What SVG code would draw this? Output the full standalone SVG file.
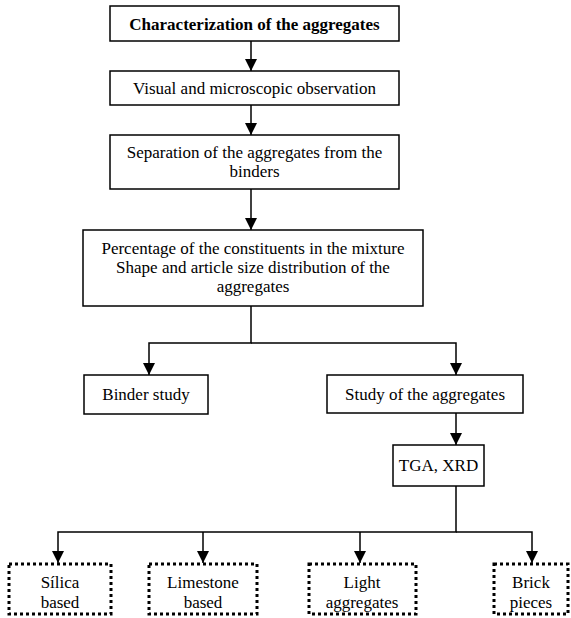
<svg xmlns="http://www.w3.org/2000/svg" width="571" height="618" viewBox="0 0 571 618">
  <style>
    .box { fill: #fff; stroke: #000; stroke-width: 1.5; }
    .dot { fill: #fff; stroke: #000; stroke-width: 3; stroke-dasharray: 3 3; }
    .lbl { font-family: "Liberation Serif", "Times New Roman", serif; font-size: 17px; fill: #000; text-anchor: middle; }
    .b { font-weight: bold; }
    .ln { fill: none; stroke: #000; stroke-width: 1.5; }
  </style>
  <defs>
    <marker id="arr" markerUnits="userSpaceOnUse" markerWidth="12" markerHeight="13" refX="12" refY="6" orient="auto" viewBox="0 0 12 12">
      <path d="M0,0 L12,6 L0,12 Z" fill="#000"/>
    </marker>
  </defs>

  <g id="connectors">
    <line class="ln" x1="251" y1="41" x2="251" y2="71" marker-end="url(#arr)"/>
    <line class="ln" x1="251" y1="105" x2="251" y2="135" marker-end="url(#arr)"/>
    <line class="ln" x1="251" y1="189" x2="251" y2="230" marker-end="url(#arr)"/>
    <polyline class="ln" points="251,306 251,343 149,343 149,375" marker-end="url(#arr)"/>
    <polyline class="ln" points="251,343 456,343 456,375" marker-end="url(#arr)"/>
    <line class="ln" x1="456" y1="413" x2="456" y2="445" marker-end="url(#arr)"/>
    <polyline class="ln" points="456,486 456,532 58,532 58,563" marker-end="url(#arr)"/>
    <line class="ln" x1="203" y1="532" x2="203" y2="563" marker-end="url(#arr)"/>
    <line class="ln" x1="360" y1="532" x2="360" y2="563" marker-end="url(#arr)"/>
    <polyline class="ln" points="456,532 532,532 532,563" marker-end="url(#arr)"/>
  </g>

  <g id="characterization">
    <rect class="box" x="110" y="6" width="289" height="35"/>
    <text class="lbl b" x="254.5" y="30">Characterization of the aggregates</text>
  </g>
  <g id="observation">
    <rect class="box" x="110" y="71" width="289" height="34"/>
    <text class="lbl" x="254.5" y="94">Visual and microscopic observation</text>
  </g>
  <g id="separation">
    <rect class="box" x="110" y="135" width="289" height="54"/>
    <text class="lbl" x="254.5" y="158">Separation of the aggregates from the</text>
    <text class="lbl" x="254.5" y="177">binders</text>
  </g>
  <g id="percentage">
    <rect class="box" x="83" y="230" width="340" height="76"/>
    <text class="lbl" x="253" y="254">Percentage of the constituents in the mixture</text>
    <text class="lbl" x="253" y="273">Shape and article size distribution of the</text>
    <text class="lbl" x="253" y="292">aggregates</text>
  </g>
  <g id="binder-study">
    <rect class="box" x="84" y="375" width="124" height="39"/>
    <text class="lbl" x="146" y="400">Binder study</text>
  </g>
  <g id="aggregate-study">
    <rect class="box" x="327" y="375" width="196" height="38"/>
    <text class="lbl" x="425" y="400">Study of the aggregates</text>
  </g>
  <g id="tga-xrd">
    <rect class="box" x="393" y="445" width="91" height="41"/>
    <text class="lbl" x="438.5" y="471">TGA, XRD</text>
  </g>
  <g id="silica">
    <rect class="dot" x="9" y="564" width="102" height="50"/>
    <text class="lbl" x="60" y="588">Sílica</text>
    <text class="lbl" x="60" y="608">based</text>
  </g>
  <g id="limestone">
    <rect class="dot" x="149" y="564" width="108" height="50"/>
    <text class="lbl" x="203" y="588">Limestone</text>
    <text class="lbl" x="203" y="608">based</text>
  </g>
  <g id="light">
    <rect class="dot" x="309" y="564" width="107" height="50"/>
    <text class="lbl" x="362" y="588">Light</text>
    <text class="lbl" x="362" y="608">aggregates</text>
  </g>
  <g id="brick">
    <rect class="dot" x="494" y="564" width="74" height="50"/>
    <text class="lbl" x="531" y="588">Brick</text>
    <text class="lbl" x="531" y="608">pieces</text>
  </g>
</svg>
